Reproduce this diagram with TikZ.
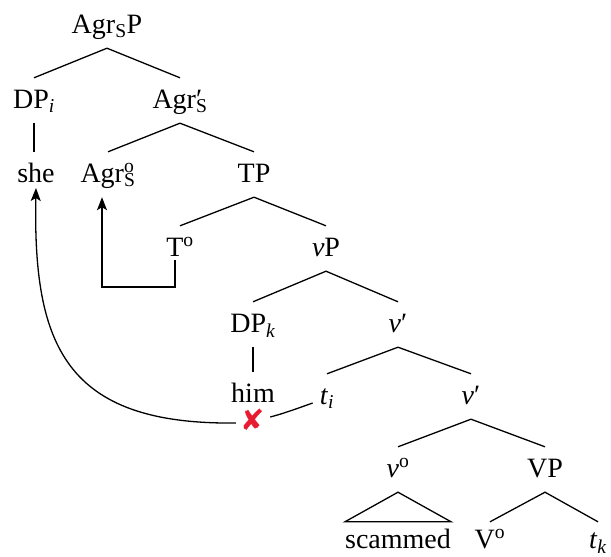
\documentclass[tikz,border=0pt]{standalone}
\usepackage{fontspec}
\setmainfont{Liberation Serif}
\newfontfamily\symfont{DejaVu Sans}
\usetikzlibrary{arrows.meta,calc}
\definecolor{xred}{RGB}{232,28,48}
% superscript stacked over a subscript
\newcommand{\supsub}[2]{\rlap{\textsuperscript{#1}}\textsubscript{#2}}
\begin{document}
\begin{tikzpicture}[x=1pt,y=-1pt,
  lbl/.style={anchor=base, inner xsep=0pt, inner ysep=8pt,
    text height=22pt, text depth=7pt, font=\rmfamily\fontsize{28}{32}\selectfont},
  leaf/.style={lbl, text height=18pt},
  branch/.style={line width=1.3pt},
  arr/.style={line width=1.3pt, -{Stealth[length=13pt,width=10pt,inset=3pt]}},
  crossmark/.style={inner sep=0pt, minimum width=34pt, minimum height=20pt,
    text=xred, font=\symfont\fontsize{29}{29}\selectfont}]
\useasboundingbox (0,0) rectangle (611,557);

% labels
\node[lbl] (agrsp) at (107,33)  {Agr\textsubscript{S}P};
\node[lbl] (dpi)   at (34,108)  {DP\textsubscript{\textit{i}}};
\node[lbl] (agrsb) at (180,108) {Agr\rlap{′}\textsubscript{S}};
\node[lbl] (she)   at (36,182)  {she};
\node[lbl] (agro)  at (108,182) {Agr\supsub{o}{S}};
\node[lbl] (tp)    at (254,182) {TP};
\node[lbl] (to)    at (180,256) {T\textsuperscript{o}};
\node[lbl] (vp)    at (326,256) {\textit{v}P};
\node[lbl] (dpk)   at (253,332) {DP\textsubscript{\textit{k}}};
\node[lbl] (vb1)   at (398,332) {\textit{v}′};
\node[lbl] (him)   at (253,402) {him};
\node[lbl] (ti)    at (327,404) {\textit{t}\textsubscript{\textit{i}}};
\node[lbl] (vb2)   at (471,404) {\textit{v}′};
\node[lbl] (vo)    at (398,477) {\textit{v}\textsuperscript{o}};
\node[lbl] (vpp)   at (545,477) {VP};
\node[leaf] (scm)  at (398,548) {scammed};
\node[leaf] (vhead) at (490,548) {V\textsuperscript{o}};
\node[leaf] (tk)   at (598,548) {\textit{t}\textsubscript{\textit{k}}};
\node[crossmark] (x) at (253,420) {✘};

% tree branches
\draw[branch] (dpi.north) -- (agrsp.south) -- (agrsb.north);
\draw[branch] (agro.north) -- (agrsb.south) -- (tp.north);
\draw[branch] (to.north) -- (tp.south) -- (vp.north);
\draw[branch] (dpk.north) -- (vp.south) -- (vb1.north);
\draw[branch] (ti.north) -- (vb1.south) -- (vb2.north);
\draw[branch] (vo.north) -- (vb2.south) -- (vpp.north);
\draw[branch] (vhead.north) -- (vpp.south) -- (tk.north);
\draw[branch] (dpi.south) -- (dpi.south |- she.north);
\draw[branch] (dpk.south) -- (dpk.south |- him.north);
\draw[branch] (scm.north west) -- (vo.south) -- (scm.north east) -- cycle;

% head movement T -> Agr
\draw[arr] ([shift={(-5pt,-4pt)}]to.base) -- ++(0,27) -| ([xshift=-6pt]agro.south);

% blocked movement of the subject
\draw[branch] ([shift={(-7pt,1pt)}]ti.base west) .. controls +(-14,5) and +(12,-3) .. ([yshift=3pt]x.east);
\draw[arr] ([yshift=-3pt]x.west) .. controls (65,425) and (33,345) .. ([yshift=-6pt]she.base);
\end{tikzpicture}
\end{document}
